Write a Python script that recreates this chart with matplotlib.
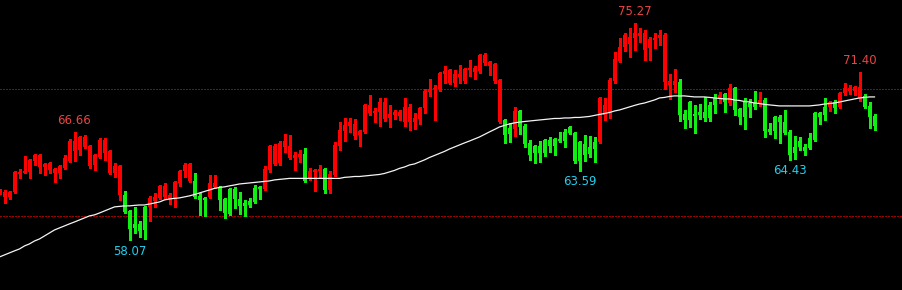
import matplotlib
matplotlib.use("Agg")
import matplotlib.pyplot as plt
import numpy as np

# OHLC, one candle per bar
opens = [61.90, 61.51, 61.51, 61.90, 63.32, 63.40, 63.48, 64.35, 63.87, 63.87,
         63.64, 63.40, 63.40, 63.80, 64.35, 65.14, 65.22, 65.45, 63.95, 64.03,
         64.66, 64.98, 63.40, 63.40, 61.66, 61.66, 60.40, 59.38, 59.38, 60.72,
         60.72, 61.19, 61.43, 61.51, 61.35, 61.35, 62.61, 63.56, 62.77, 62.77,
         61.59, 61.43, 61.51, 62.30, 62.30, 61.35, 62.14, 62.14, 61.35, 61.03,
         61.19, 62.22, 62.30, 62.14, 63.64, 64.11, 64.19, 65.45, 64.58, 64.58,
         64.66, 64.90, 62.93, 63.48, 63.56, 63.72, 62.06, 63.24, 65.53, 66.71,
         67.11, 66.32, 66.40, 66.64, 68.13, 68.13, 68.21, 67.66, 67.74, 67.98,
         67.90, 67.42, 67.42, 67.42, 67.66, 68.53, 69.79, 70.03, 70.03, 71.21,
         70.50, 70.50, 70.97, 70.66, 71.53, 71.37, 71.45, 72.08, 71.84, 70.66,
         67.42, 67.58, 66.95, 66.87, 68.29, 67.11, 65.77, 65.53, 65.53, 66.00,
         66.00, 66.08, 66.08, 66.64, 67.03, 66.56, 65.85, 65.69, 65.45, 65.85,
         65.85, 67.98, 68.21, 70.66, 72.24, 73.34, 73.58, 74.05, 74.21, 73.11,
         73.26, 73.89, 74.05, 70.58, 70.34, 70.34, 70.58, 68.06, 69.00, 68.06,
         68.21, 68.21, 68.77, 69.32, 69.32, 69.63, 68.92, 70.11, 68.45, 69.00,
         68.92, 68.92, 68.84, 69.16, 66.87, 67.82, 67.82, 67.42, 66.64, 65.45,
         65.92, 65.45, 66.16, 68.13, 68.13, 68.61, 68.61, 69.00, 68.61, 69.71,
         69.87, 69.87, 69.32, 69.48, 68.69, 67.90]
highs = [62.14, 62.06, 61.98, 63.52, 63.72, 64.74, 64.50, 64.90, 64.90, 64.19,
         64.27, 63.80, 64.03, 64.82, 66.08, 66.66, 66.32, 66.40, 65.61, 64.90,
         66.16, 66.16, 65.22, 64.19, 64.03, 61.98, 60.48, 60.72, 59.61, 60.80,
         61.59, 61.82, 62.45, 62.61, 61.82, 62.77, 63.64, 64.19, 64.19, 63.40,
         61.82, 61.51, 63.24, 63.24, 62.38, 61.43, 62.22, 62.30, 61.90, 61.27,
         61.43, 62.45, 62.38, 63.95, 65.61, 65.69, 65.92, 66.48, 66.40, 65.06,
         65.22, 65.37, 63.80, 63.72, 64.03, 63.80, 63.56, 65.85, 67.42, 67.74,
         67.74, 67.66, 66.79, 68.84, 69.55, 68.53, 69.32, 69.32, 68.77, 68.37,
         68.37, 69.32, 68.84, 68.13, 68.61, 70.03, 70.82, 70.34, 71.37, 71.84,
         71.61, 71.53, 71.92, 71.68, 72.32, 71.84, 72.79, 72.87, 72.24, 72.08,
         70.82, 67.66, 67.35, 68.61, 68.37, 67.27, 66.00, 65.61, 65.92, 66.08,
         66.24, 66.16, 66.64, 66.87, 67.11, 66.64, 65.92, 66.40, 66.32, 66.24,
         69.40, 69.32, 70.90, 72.95, 74.05, 74.45, 74.84, 75.27, 74.84, 74.68,
         74.13, 74.45, 74.68, 74.45, 71.21, 71.61, 70.82, 68.37, 69.08, 68.77,
         68.84, 69.40, 69.00, 69.63, 69.79, 69.71, 70.42, 70.19, 68.53, 69.32,
         69.24, 69.87, 69.79, 69.32, 67.35, 67.90, 67.98, 68.37, 66.79, 66.32,
         66.24, 65.69, 66.56, 68.21, 68.21, 69.32, 69.08, 69.16, 69.79, 70.50,
         70.34, 70.26, 71.40, 69.63, 69.00, 68.06]
lows = [61.74, 61.03, 61.35, 61.82, 63.01, 63.36, 63.01, 64.03, 63.40, 63.24,
        63.40, 62.69, 63.01, 63.72, 64.27, 64.35, 64.82, 65.37, 63.80, 63.64,
        64.58, 64.43, 63.32, 63.08, 61.27, 60.24, 58.07, 58.67, 58.35, 58.19,
        59.61, 60.72, 61.35, 61.35, 60.95, 60.72, 62.38, 63.08, 62.69, 61.43,
        60.09, 60.01, 61.43, 62.22, 60.48, 59.85, 60.09, 60.64, 60.17, 60.01,
        60.72, 61.03, 61.35, 62.06, 63.48, 64.03, 64.03, 65.06, 64.50, 63.64,
        64.27, 62.69, 62.85, 61.98, 63.01, 61.82, 61.82, 63.16, 65.22, 65.92,
        66.64, 66.08, 65.53, 66.56, 67.98, 67.42, 67.11, 67.50, 67.03, 67.66,
        67.58, 67.11, 66.79, 66.87, 67.27, 68.13, 69.48, 67.58, 69.87, 70.50,
        70.42, 70.26, 70.50, 70.50, 71.05, 70.82, 71.29, 71.92, 71.13, 70.50,
        67.35, 65.77, 65.85, 66.32, 66.48, 65.45, 64.43, 64.19, 64.27, 64.74,
        65.06, 64.82, 65.85, 65.45, 66.48, 64.19, 63.59, 64.35, 64.66, 64.27,
        65.77, 67.58, 67.74, 70.50, 72.16, 73.03, 72.55, 73.11, 73.74, 72.32,
        72.32, 73.26, 73.50, 70.03, 69.24, 69.79, 67.50, 66.95, 67.03, 66.56,
        67.66, 67.50, 67.50, 68.13, 68.92, 68.21, 68.77, 67.98, 67.27, 66.87,
        67.82, 68.45, 68.69, 66.24, 66.48, 66.16, 65.77, 66.48, 64.43, 64.50,
        65.22, 64.82, 65.29, 65.92, 67.27, 67.58, 68.29, 68.13, 68.53, 69.55,
        69.63, 69.55, 69.08, 68.53, 66.95, 66.79]
closes = [62.06, 61.90, 61.90, 63.48, 63.48, 63.56, 64.43, 64.82, 64.82, 64.11,
          64.19, 63.72, 63.95, 64.58, 65.92, 65.92, 66.24, 66.24, 65.53, 64.82,
          66.00, 66.00, 65.14, 63.95, 63.95, 60.32, 58.98, 59.06, 58.82, 58.90,
          61.43, 61.51, 62.38, 62.38, 61.66, 62.69, 63.56, 64.03, 64.11, 61.51,
          61.27, 61.27, 62.61, 62.61, 61.27, 60.24, 60.17, 61.35, 60.80, 60.80,
          60.87, 61.11, 62.14, 63.72, 65.53, 65.53, 65.77, 65.92, 65.53, 64.82,
          64.90, 62.77, 63.56, 63.64, 63.72, 62.06, 63.32, 65.61, 66.79, 67.19,
          67.42, 67.27, 66.71, 68.77, 68.77, 68.29, 69.00, 69.00, 68.06, 68.21,
          68.21, 68.61, 68.61, 67.74, 68.53, 69.87, 70.03, 70.11, 71.29, 71.45,
          71.53, 71.21, 71.21, 71.61, 71.68, 71.68, 72.71, 72.71, 72.16, 72.00,
          70.74, 66.40, 66.48, 68.29, 67.03, 65.69, 64.82, 64.98, 64.98, 64.98,
          65.53, 65.53, 65.92, 65.92, 66.56, 64.35, 64.35, 64.82, 64.90, 65.29,
          69.32, 68.77, 70.74, 72.40, 73.34, 74.29, 74.13, 74.45, 74.45, 74.45,
          73.97, 74.05, 74.29, 74.29, 70.66, 70.66, 67.98, 67.58, 67.58, 67.90,
          67.98, 67.74, 67.74, 68.77, 69.55, 69.00, 70.11, 68.37, 67.82, 67.82,
          68.61, 68.61, 69.16, 66.71, 66.64, 66.71, 67.42, 66.56, 64.82, 64.98,
          65.45, 65.14, 65.37, 66.00, 67.82, 67.98, 69.00, 68.53, 69.71, 70.11,
          70.11, 70.19, 70.19, 68.61, 67.82, 67.11]

# white moving average line
ma = [56.77, 56.93, 57.09, 57.25, 57.40, 57.64, 57.80, 58.03, 58.19, 58.43,
      58.67, 58.90, 59.06, 59.22, 59.38, 59.53, 59.69, 59.85, 60.01, 60.09,
      60.24, 60.40, 60.56, 60.72, 60.76, 60.80, 60.80, 60.84, 60.87, 60.87,
      60.95, 61.03, 61.11, 61.27, 61.35, 61.39, 61.43, 61.51, 61.59, 61.70,
      61.82, 61.94, 62.06, 62.18, 62.26, 62.30, 62.38, 62.45, 62.53, 62.57,
      62.61, 62.65, 62.69, 62.73, 62.77, 62.85, 62.89, 62.93, 62.97, 62.97,
      62.97, 62.97, 62.97, 62.97, 62.97, 62.97, 62.97, 62.97, 62.97, 63.05,
      63.08, 63.12, 63.12, 63.16, 63.20, 63.24, 63.28, 63.36, 63.48, 63.60,
      63.76, 63.87, 64.03, 64.11, 64.27, 64.43, 64.62, 64.78, 64.94, 65.10,
      65.29, 65.45, 65.61, 65.77, 65.92, 66.08, 66.24, 66.44, 66.64, 66.83,
      67.03, 67.15, 67.27, 67.35, 67.42, 67.46, 67.50, 67.54, 67.58, 67.62,
      67.66, 67.70, 67.70, 67.74, 67.74, 67.78, 67.78, 67.82, 67.86, 67.94,
      68.02, 68.09, 68.17, 68.29, 68.37, 68.49, 68.61, 68.73, 68.84, 68.92,
      69.04, 69.16, 69.32, 69.36, 69.44, 69.48, 69.48, 69.48, 69.44, 69.40,
      69.40, 69.40, 69.36, 69.32, 69.28, 69.24, 69.24, 69.16, 69.12, 69.04,
      69.00, 68.92, 68.88, 68.81, 68.77, 68.73, 68.69, 68.69, 68.69, 68.69,
      68.69, 68.69, 68.69, 68.73, 68.77, 68.84, 68.88, 68.92, 69.00, 69.08,
      69.16, 69.24, 69.32, 69.36, 69.40, 69.40]

# price levels with dotted guide lines
guide_levels = [70, 60]

# candles that carry a high / low label
high_marks = [15, 127, 172]
low_marks = [26, 116, 158]

UP = '#ff0000'
DOWN = '#11ee11'

fig = plt.figure(figsize=(9.02, 2.90), dpi=100, facecolor='black')
ax = fig.add_axes([0, 0, 1, 1])
ax.set_facecolor('black')

x = np.arange(len(opens))
o = np.array(opens)
c = np.array(closes)
colors = [UP if cc >= oo else DOWN for oo, cc in zip(o, c)]

for lvl in guide_levels:
    ax.axhline(lvl, color='#a00000', lw=0.75, ls=(0, (1, 1.5)), zorder=1,
               antialiased=False)

ax.vlines(x, lows, highs, colors=colors, lw=0.75, zorder=2, antialiased=False)
bottoms = np.minimum(o, c)
heights = np.maximum(np.abs(c - o), 0.06)
ax.bar(x, heights, bottom=bottoms, width=0.58, color=colors, lw=0, zorder=3,
       antialiased=False)

ax.plot(x, ma, color='#f4f4f4', lw=0.9, zorder=4)

for k in high_marks:
    ax.annotate(f"{highs[k]:.2f}", xy=(k, highs[k]), xytext=(0, 3),
                textcoords='offset points', ha='center', va='bottom',
                fontsize=8.5, color='#e84444')
for k in low_marks:
    ax.annotate(f"{lows[k]:.2f}", xy=(k, lows[k]), xytext=(0, -3),
                textcoords='offset points', ha='center', va='top',
                fontsize=8.5, color='#22cfee')

ax.set_xlim(0.1, 180.5)
ax.set_ylim(54.16, 77.05)
ax.axis('off')

fig.savefig('out.png', dpi=100, facecolor='black')
